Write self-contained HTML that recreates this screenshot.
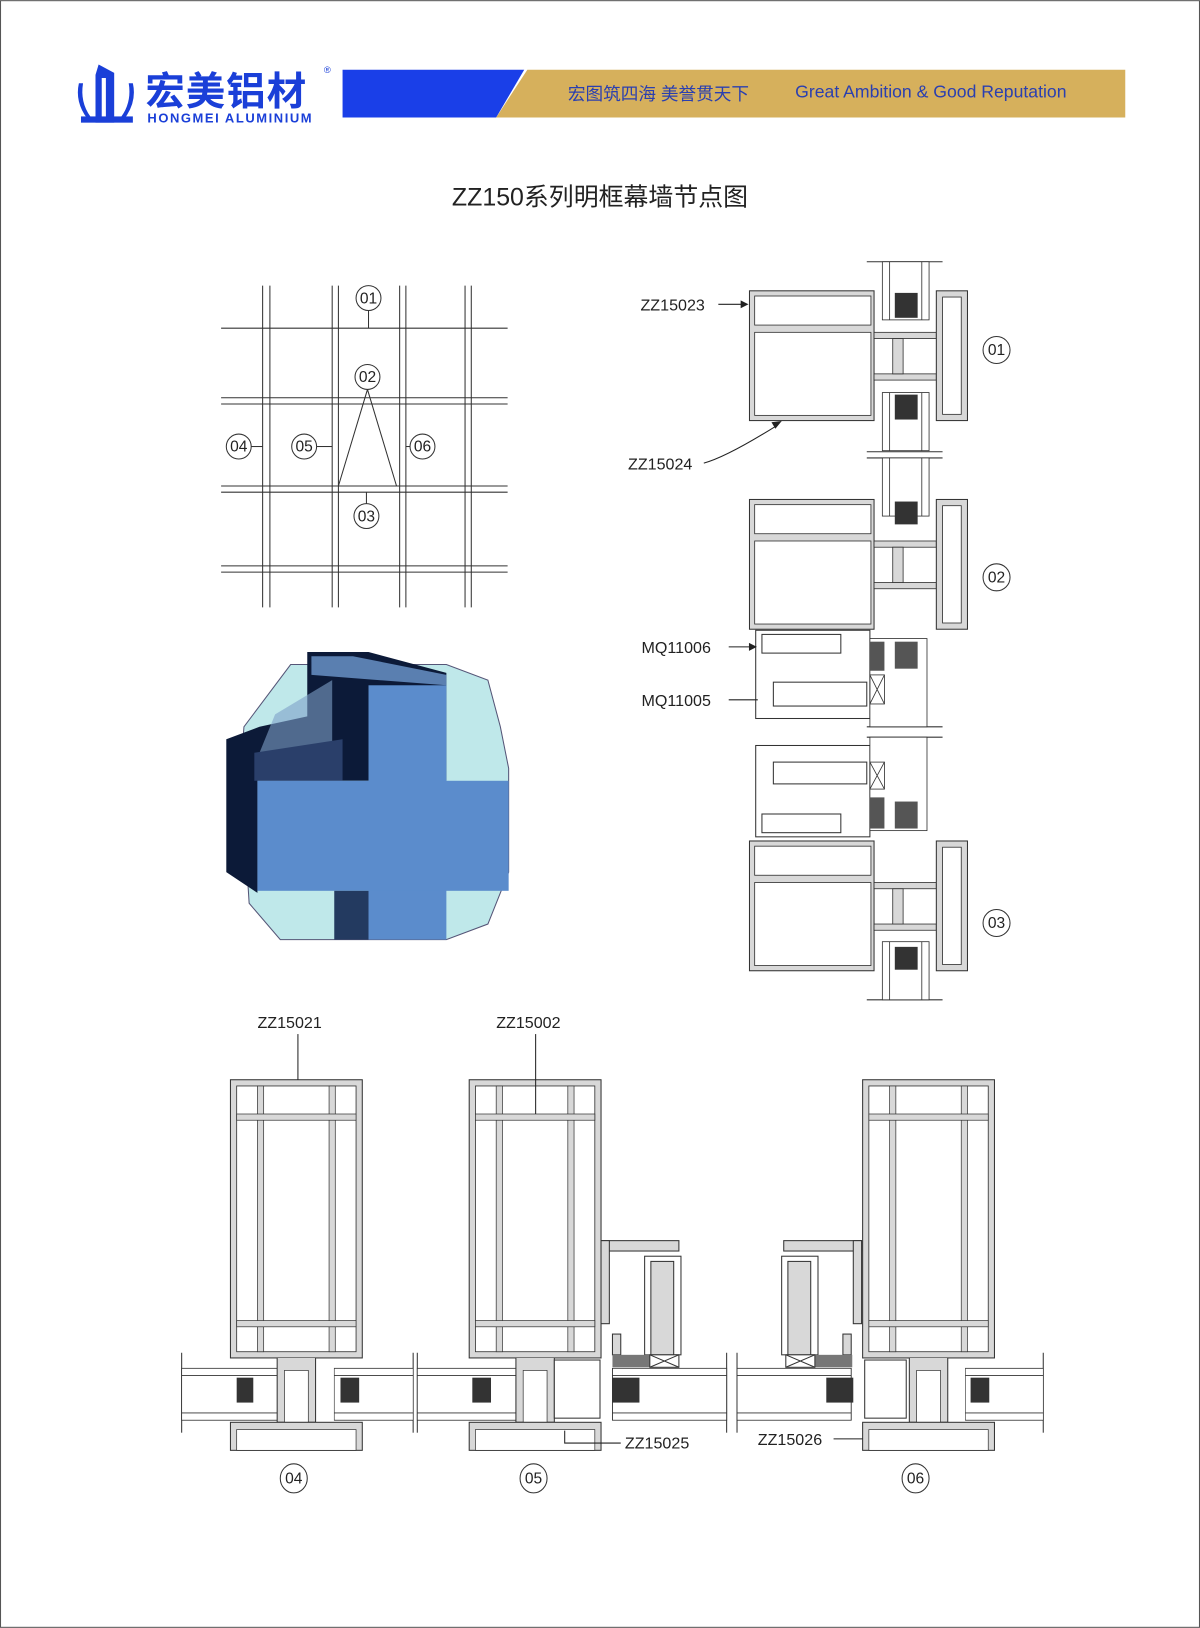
<!DOCTYPE html>
<html><head><meta charset="utf-8"><style>
html,body{margin:0;padding:0;background:#fff}
svg{display:block}
text{font-family:"Liberation Sans","Noto Sans CJK SC",sans-serif}
</style></head><body>
<svg width="1200" height="1628" viewBox="0 0 1156 1568" xmlns="http://www.w3.org/2000/svg">
<defs>
<g id="rnode">
  <rect x="0" y="0" width="120" height="125" fill="#d8d8d8" stroke="#333" stroke-width="1"/>
  <rect x="5" y="5" width="112" height="28" fill="#fff" stroke="#333" stroke-width="0.8"/>
  <rect x="5" y="40" width="112" height="80" fill="#fff" stroke="#333" stroke-width="0.8"/>
  <rect x="120" y="40" width="60" height="6" fill="#d8d8d8" stroke="#333" stroke-width="0.8"/>
  <rect x="120" y="80" width="60" height="6" fill="#d8d8d8" stroke="#333" stroke-width="0.8"/>
  <rect x="138" y="46" width="10" height="34" fill="#d8d8d8" stroke="#333" stroke-width="0.8"/>
  <rect x="180" y="0" width="30" height="125" fill="#d8d8d8" stroke="#333" stroke-width="1"/>
  <rect x="186" y="6" width="18" height="113" fill="#fff" stroke="#333" stroke-width="0.8"/>
</g>
<g id="glassV">
  <rect x="0" y="0" width="45" height="56" fill="#fff" stroke="#333" stroke-width="0.8"/>
  <line x1="7" y1="0" x2="7" y2="56" stroke="#333" stroke-width="0.8"/>
  <line x1="38" y1="0" x2="38" y2="56" stroke="#333" stroke-width="0.8"/>
</g>
<g id="bmul">
  <rect x="0" y="0" width="127" height="268" fill="#d8d8d8" stroke="#333"/>
  <rect x="6" y="6" width="115" height="256" fill="#fff" stroke="#333" stroke-width="0.8"/>
  <rect x="26" y="6" width="6" height="256" fill="#d8d8d8" stroke="#333" stroke-width="0.7"/>
  <rect x="95" y="6" width="6" height="256" fill="#d8d8d8" stroke="#333" stroke-width="0.7"/>
  <rect x="6" y="33" width="115" height="6" fill="#d8d8d8" stroke="#333" stroke-width="0.7"/>
  <rect x="6" y="232" width="115" height="6" fill="#d8d8d8" stroke="#333" stroke-width="0.7"/>
  <path d="M45 268 V330 H82 V268" fill="#d8d8d8" stroke="#333"/>
  <rect x="52" y="280" width="23" height="50" fill="#fff" stroke="#333" stroke-width="0.7"/>
  <rect x="0" y="330" width="127" height="27" fill="#d8d8d8" stroke="#333"/>
  <rect x="6" y="337" width="115" height="20" fill="#fff" stroke="#333" stroke-width="0.7"/>
</g>
<g id="glassH">
  <rect x="0" y="0" width="100" height="50" fill="#fff" stroke="#333" stroke-width="0.8"/>
  <line x1="0" y1="7" x2="100" y2="7" stroke="#333" stroke-width="0.8"/>
  <line x1="0" y1="43" x2="100" y2="43" stroke="#333" stroke-width="0.8"/>
</g>
</defs>
<rect x="0.5" y="0.5" width="1155" height="1567" fill="#fff" stroke="#555"/>
<!-- header -->
<g fill="#1a3fd8">
  <path d="M95 62 L110 70 V118 H92 V72 Z"/>
  <rect x="98" y="75" width="4" height="38" fill="#fff"/>
  <path d="M76 80 q-4 18 8 34 l3 -2 q-10 -14 -7 -32z"/>
  <path d="M128 80 q4 18 -8 34 l-3 -2 q10 -14 7 -32z"/>
  <rect x="78" y="112" width="50" height="6"/>
</g>
<text x="140" y="101" font-size="38" font-weight="bold" fill="#1a3fd8" font-family="Noto Sans CJK SC" letter-spacing="1">宏美铝材</text>
<text x="312" y="70" font-size="9" fill="#1a3fd8">®</text>
<text x="142" y="118" font-size="12.5" font-weight="bold" fill="#1a3fd8" letter-spacing="1.5">HONGMEI ALUMINIUM</text>
<polygon points="330,67 505,67 478,113 330,113" fill="#1a3fe8"/>
<polygon points="508,67 1084,67 1084,113 478,113" fill="#d6b05c"/>
<text x="547" y="96" font-size="17" fill="#2a3fb0" font-family="Noto Sans CJK SC">宏图筑四海  美誉贯天下</text>
<text x="766" y="94" font-size="17" fill="#2a3fb0">Great Ambition &amp; Good Reputation</text>
<text x="578" y="198" font-size="24" fill="#222" text-anchor="middle" font-family="Noto Sans CJK SC">ZZ150系列明框幕墙节点图</text>
<!-- grid -->
<g stroke="#333" stroke-width="1" fill="none">
  <line x1="253" y1="275" x2="253" y2="585"/><line x1="260" y1="275" x2="260" y2="585"/>
  <line x1="320" y1="275" x2="320" y2="585"/><line x1="326" y1="275" x2="326" y2="585"/>
  <line x1="385" y1="275" x2="385" y2="585"/><line x1="391" y1="275" x2="391" y2="585"/>
  <line x1="448" y1="275" x2="448" y2="585"/><line x1="454" y1="275" x2="454" y2="585"/>
  <line x1="213" y1="316" x2="489" y2="316"/>
  <line x1="213" y1="383" x2="489" y2="383"/><line x1="213" y1="389" x2="489" y2="389"/>
  <line x1="213" y1="468" x2="489" y2="468"/><line x1="213" y1="474" x2="489" y2="474"/>
  <line x1="213" y1="545" x2="489" y2="545"/><line x1="213" y1="551" x2="489" y2="551"/>
  <line x1="355" y1="299" x2="355" y2="316"/>
  <path d="M354 375 L326 468 M354 375 L382 468"/>
  <line x1="353" y1="474" x2="353" y2="485"/>
  <line x1="242" y1="430" x2="253" y2="430"/><line x1="305" y1="430" x2="320" y2="430"/><line x1="391" y1="430" x2="395" y2="430"/>
</g>
<g fill="#fff" stroke="#333" font-size="15" text-anchor="middle">
  <circle cx="355" cy="287" r="12"/><circle cx="354" cy="363" r="12"/><circle cx="353" cy="497" r="12"/>
  <circle cx="230" cy="430" r="12"/><circle cx="293" cy="430" r="12"/><circle cx="407" cy="430" r="12"/>
</g>
<g font-size="15" text-anchor="middle" fill="#222">
  <text x="355" y="292">01</text><text x="354" y="368">02</text><text x="353" y="502">03</text>
  <text x="230" y="435">04</text><text x="293" y="435">05</text><text x="407" y="435">06</text>
</g>
<!-- 3D -->
<polygon points="296,640 430,640 470,655 482,700 490,740 490,840 470,890 430,905 270,905 240,870 232,740 235,700 280,640" fill="#bfe8ea" stroke="#557" stroke-width="1"/>
<polygon points="296,628 355,628 430,648 430,752 248,752 248,860 218,840 218,712 250,700 296,690" fill="#0c1a38"/>
<polygon points="265,688 320,655 320,715 250,725" fill="#7fa0c8" opacity="0.6"/>
<polygon points="300,632 340,632 430,650 430,660 300,650" fill="#5a7fb0"/>
<polygon points="245,725 330,712 330,752 245,752" fill="#2a3f6a"/>
<rect x="355" y="660" width="75" height="245" fill="#5b8ccc"/>
<rect x="248" y="752" width="242" height="106" fill="#5b8ccc"/>
<rect x="322" y="858" width="33" height="47" fill="#233a60"/>
<!-- right column -->
<g stroke="#333" stroke-width="1">
  <line x1="835" y1="252" x2="908" y2="252"/>
  <line x1="835" y1="435" x2="908" y2="435"/><line x1="835" y1="441" x2="908" y2="441"/>
  <line x1="835" y1="700" x2="908" y2="700"/><line x1="835" y1="710" x2="908" y2="710"/>
  <line x1="835" y1="963" x2="908" y2="963"/>
</g>
<use href="#glassV" x="850" y="252"/>
<use href="#glassV" x="850" y="378"/>
<use href="#glassV" x="850" y="441"/>
<use href="#glassV" x="850" y="907"/>
<g fill="#333">
  <rect x="862" y="282" width="22" height="24"/><rect x="862" y="380" width="22" height="24"/>
  <rect x="862" y="483" width="22" height="22"/><rect x="862" y="912" width="22" height="22"/>
</g>
<use href="#rnode" x="722" y="280"/>
<use href="#rnode" x="722" y="481"/>
<use href="#rnode" x="722" y="810"/>
<!-- MQ profiles -->
<g fill="#fff" stroke="#333">
  <rect x="728" y="607" width="110" height="85"/>
  <rect x="734" y="611" width="76" height="18"/>
  <rect x="745" y="657" width="90" height="23"/>
  <rect x="728" y="718" width="110" height="88"/>
  <rect x="745" y="734" width="90" height="21"/>
  <rect x="734" y="784" width="76" height="18"/>
</g>
<g fill="#fff" stroke="#333" stroke-width="0.8">
  <rect x="838" y="615" width="55" height="85"/><rect x="838" y="710" width="55" height="90"/>
</g>
<g fill="#555"><rect x="838" y="618" width="14" height="28"/><rect x="862" y="618" width="22" height="26"/>
<rect x="838" y="768" width="14" height="30"/><rect x="862" y="772" width="22" height="26"/></g>
<g stroke="#333" fill="none" stroke-width="0.8"><rect x="838" y="650" width="14" height="28"/><path d="M838 650 L852 678 M852 650 L838 678"/>
<rect x="838" y="734" width="14" height="26"/><path d="M838 734 L852 760 M852 734 L838 760"/></g>
<g font-size="15.5" fill="#222">
  <text x="617" y="299">ZZ15023</text><text x="605" y="452">ZZ15024</text>
  <text x="618" y="629">MQ11006</text><text x="618" y="680">MQ11005</text>
</g>
<g stroke="#222" stroke-width="1" fill="#222">
  <line x1="692" y1="293" x2="716" y2="293"/><path d="M720 293 l-6 -3 v6z"/>
  <path d="M678 446 Q700 440 748 410" fill="none"/><path d="M752 406 l-8 1 3 5z"/>
  <line x1="702" y1="623" x2="724" y2="623"/><path d="M728 623 l-6 -3 v6z"/>
  <line x1="702" y1="674" x2="730" y2="674"/>
</g>
<g fill="#fff" stroke="#333"><circle cx="960" cy="337" r="13"/><circle cx="960" cy="556" r="13"/><circle cx="960" cy="889" r="13"/></g>
<g font-size="15" text-anchor="middle" fill="#222"><text x="960" y="342">01</text><text x="960" y="561">02</text><text x="960" y="894">03</text></g>
<!-- bottom -->
<g stroke="#333" stroke-width="1">
  <line x1="175" y1="1303" x2="175" y2="1380"/><line x1="398" y1="1303" x2="398" y2="1380"/><line x1="402" y1="1303" x2="402" y2="1380"/>
  <line x1="700" y1="1303" x2="700" y2="1380"/><line x1="710" y1="1303" x2="710" y2="1380"/><line x1="1005" y1="1303" x2="1005" y2="1380"/>
</g>
<g>
  <use href="#glassH" transform="translate(175,1318) scale(0.95,1)"/>
  <use href="#glassH" transform="translate(322,1318) scale(0.76,1)"/>
  <use href="#glassH" transform="translate(402,1318) scale(0.98,1)"/>
  <use href="#glassH" transform="translate(590,1318) scale(1.1,1)"/>
  <use href="#glassH" transform="translate(710,1318) scale(1.1,1)"/>
  <use href="#glassH" transform="translate(930,1318) scale(0.75,1)"/>
</g>
<g fill="#333">
  <rect x="228" y="1327" width="16" height="24"/><rect x="328" y="1327" width="18" height="24"/>
  <rect x="455" y="1327" width="18" height="24"/><rect x="590" y="1327" width="26" height="24"/>
  <rect x="796" y="1327" width="26" height="24"/><rect x="935" y="1327" width="18" height="24"/>
</g>
<use href="#bmul" x="222" y="1040"/>
<use href="#bmul" x="452" y="1040"/>
<use href="#bmul" x="831" y="1040"/>
<g fill="#d8d8d8" stroke="#333">
  <rect x="579" y="1195" width="75" height="10"/><rect x="579" y="1195" width="8" height="80"/>
  <rect x="621" y="1210" width="35" height="95" fill="#fff"/><rect x="627" y="1215" width="22" height="90"/>
  <rect x="590" y="1285" width="8" height="20"/>
  <rect x="755" y="1195" width="75" height="10"/><rect x="822" y="1195" width="8" height="80"/>
  <rect x="753" y="1210" width="35" height="95" fill="#fff"/><rect x="759" y="1215" width="22" height="90"/>
  <rect x="812" y="1285" width="8" height="20"/>
</g>
<g fill="#777"><rect x="590" y="1305" width="36" height="12"/><rect x="785" y="1305" width="36" height="12"/></g>
<g stroke="#333" fill="#fff"><rect x="626" y="1305" width="28" height="12"/><rect x="757" y="1305" width="28" height="12"/></g>
<g stroke="#333"><path d="M626 1305 L654 1317 M654 1305 L626 1317 M757 1305 L785 1317 M785 1305 L757 1317"/></g>
<g stroke="#333" fill="#fff"><rect x="534" y="1310" width="44" height="56"/><rect x="833" y="1310" width="40" height="56"/></g>
<g font-size="15.5" fill="#222">
  <text x="248" y="990">ZZ15021</text><text x="478" y="990">ZZ15002</text>
  <text x="602" y="1395">ZZ15025</text><text x="730" y="1392">ZZ15026</text>
</g>
<g stroke="#222" stroke-width="1" fill="none">
  <line x1="287" y1="996" x2="287" y2="1040"/><line x1="516" y1="996" x2="516" y2="1073"/>
  <path d="M544 1378 V1390 H598"/><line x1="803" y1="1386" x2="831" y2="1386"/>
</g>
<g fill="#fff" stroke="#333"><ellipse cx="283" cy="1424" rx="13" ry="14"/><ellipse cx="514" cy="1424" rx="13" ry="14"/><ellipse cx="882" cy="1424" rx="13" ry="14"/></g>
<g font-size="15" text-anchor="middle" fill="#222"><text x="283" y="1429">04</text><text x="514" y="1429">05</text><text x="882" y="1429">06</text></g>
</svg>
</body></html>
